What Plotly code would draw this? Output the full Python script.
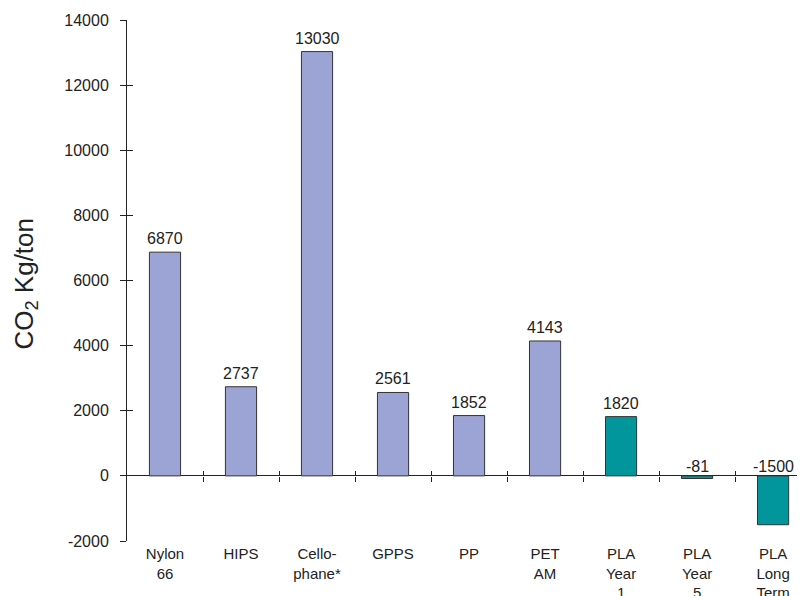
import plotly.graph_objects as go

categories = ["Nylon<br>66", "HIPS", "Cello-<br>phane*", "GPPS", "PP", "PET<br>AM",
              "PLA<br>Year<br>1", "PLA<br>Year<br>5", "PLA<br>Long<br>Term"]
values = [6870, 2737, 13030, 2561, 1852, 4143, 1820, -81, -1500]
value_labels = ["6870", "2737", "13030", "2561", "1852", "4143", "1820", "-81", "-1500"]
is_pla = [False, False, False, False, False, False, True, True, True]
y_ticks = [-2000, 0, 2000, 4000, 6000, 8000, 10000, 12000, 14000]
y_tick_labels = ["-2000", "0", "2000", "4000", "6000", "8000", "10000", "12000", "14000"]

PURPLE = "#9ca4d5"
TEAL = "#00969b"
INK = "#222222"
FONT = "Liberation Sans, Arial, Helvetica, sans-serif"

colors = [TEAL if p else PURPLE for p in is_pla]
x_idx = list(range(len(categories)))
x_range = [-0.5, 8.42]
y_range = [-2000, 14000]

fig = go.Figure()
fig.add_trace(go.Bar(
    x=categories, y=values, width=0.41,
    marker=dict(color=colors, line=dict(color="#333333", width=1)),
    hoverinfo="x+y", showlegend=False,
))
# helper empty traces so overlay axes render
fig.add_trace(go.Scatter(x=[], y=[], xaxis="x2", yaxis="y", showlegend=False))
fig.add_trace(go.Scatter(x=[], y=[], xaxis="x3", yaxis="y2", showlegend=False))

for c, v, t in zip(categories, values, value_labels):
    fig.add_annotation(x=c, y=max(v, 0), text=t, showarrow=False,
                       xref="x", yref="y", yanchor="bottom",
                       yshift=3 if v > 0 else -1,
                       font=dict(size=16, color=INK, family=FONT))

# y-axis title
fig.add_annotation(x=0, y=0.5, xref="paper", yref="paper", xshift=-102, yshift=-3,
                   text="CO<sub>2</sub> Kg/ton", textangle=-90, showarrow=False,
                   xanchor="center", yanchor="middle",
                   font=dict(size=26, color=INK, family=FONT))

zero_pos = (0 - y_range[0]) / (y_range[1] - y_range[0])
boundaries = [i + 0.5 for i in x_idx[:-1]]

fig.update_layout(
    width=797, height=588,
    margin=dict(l=119, r=0, t=12, b=55, autoexpand=False),
    paper_bgcolor="white", plot_bgcolor="white",
    font=dict(family=FONT, color=INK, size=15),
    xaxis=dict(type="category", range=x_range, showline=False, ticks="",
               showgrid=False, zeroline=False, automargin=False,
               ticklabelstandoff=2, tickfont=dict(size=15, color=INK)),
    xaxis2=dict(overlaying="x", anchor="free", position=zero_pos, range=x_range,
                tickmode="array", tickvals=boundaries, ticks="outside", ticklen=5,
                tickcolor=INK, showticklabels=False, showgrid=False, zeroline=False,
                showline=False, automargin=False),
    xaxis3=dict(overlaying="x", anchor="free", position=zero_pos, range=x_range,
                tickmode="array", tickvals=boundaries, ticks="inside", ticklen=5,
                tickcolor=INK, showticklabels=False, showgrid=False, zeroline=False,
                showline=False, automargin=False),
    yaxis=dict(range=y_range, tickmode="array", tickvals=y_ticks, ticktext=y_tick_labels,
               ticks="outside", ticklen=6, tickcolor=INK, showline=True,
               linecolor=INK, linewidth=1, showgrid=False, zeroline=True,
               zerolinecolor=INK, zerolinewidth=1, ticklabelstandoff=8,
               automargin=False, tickfont=dict(size=16, color=INK)),
    yaxis2=dict(overlaying="y", anchor="x", side="left", range=y_range,
                tickmode="array", tickvals=y_ticks, ticks="inside", ticklen=6,
                tickcolor=INK, showticklabels=False, showgrid=False, zeroline=False,
                showline=False, automargin=False),
)

fig.write_html("out.html")
